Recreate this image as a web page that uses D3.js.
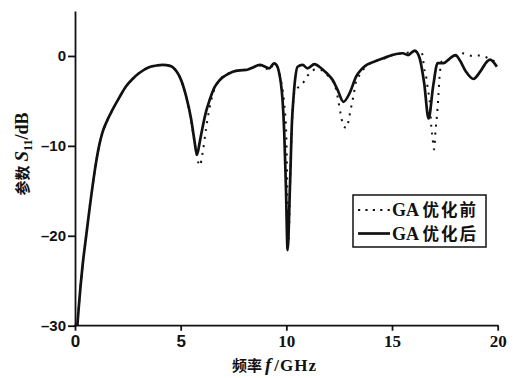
<!DOCTYPE html>
<html>
<head>
<meta charset="utf-8">
<script src="https://cdn.jsdelivr.net/npm/d3@7"></script>
<style>
  html, body { margin: 0; padding: 0; background: #fff; }
  svg { display: block; }
  .axis path, .axis line { stroke: #111; stroke-width: 1.8; }
  .axis text { fill: #111; font-weight: bold; }
  .sans { font-family: "Liberation Sans", Arial, sans-serif; }
  .serif { font-family: "Liberation Serif", "Times New Roman", serif; }
  .cjk { font-family: "Noto Sans CJK SC", sans-serif; }
</style>
</head>
<body>
<svg id="chart" width="516" height="378"></svg>
<script>
var X_TICKS = [0, 5, 10, 15, 20];
var Y_TICKS = [-30, -20, -10, 0];
var SERIES_LABELS = ['GA 优化前', 'GA 优化后'];

// GA 优化前 (dotted)
var beforeFreq = [0.11, 0.19, 0.35, 0.54, 0.8, 1.0, 1.14, 1.3, 1.5, 1.77, 2.1, 2.41, 2.75, 3.04, 3.5, 3.9, 4.15, 4.5, 4.8, 4.95, 5.1, 5.26, 5.5, 5.7, 5.9, 6.05, 6.2, 6.35, 6.5, 6.7, 6.9, 7.2, 7.5, 7.8, 8.1, 8.4, 8.74, 9.0, 9.19, 9.42, 9.6, 9.75, 9.9, 10.0, 10.1, 10.2, 10.3, 10.38, 10.5, 10.65, 10.85, 11.1, 11.4, 11.7, 12.0, 12.3, 12.43, 12.51, 12.59, 12.7, 12.86, 12.96, 13.04, 13.12, 13.2, 13.27, 13.5, 13.8, 14.2, 14.6, 15.2, 15.6, 16.07, 16.4, 16.55, 16.63, 16.7, 16.78, 16.86, 16.92, 16.99, 17.06, 17.12, 17.19, 17.25, 17.35, 17.7, 18.3, 18.8, 19.15, 19.6, 20.0];
var beforeDb = [-30, -27.6, -23.5, -19.8, -15, -11.8, -10, -8.5, -7.3, -6, -4.6, -3.4, -2.5, -1.9, -1.25, -1.05, -1.0, -1.1, -1.7, -2.3, -3.2, -4.5, -7.3, -10.2, -12.2, -10.6, -8.1, -6.0, -4.4, -3.2, -2.5, -2.0, -1.75, -1.6, -1.5, -1.3, -1.05, -1.3, -1.6, -0.9, -1.3, -2.8, -5.3, -9, -20.5, -12, -6.0, -4.1, -3.6, -3.4, -2.8, -1.9, -1.5, -1.6, -2.3, -3.3, -4.6, -5.7, -6.7, -7.8, -8.0, -7.0, -6.0, -5.1, -4.1, -3.1, -2.0, -1.1, -0.6, -0.3, 0.2, 0.3, 0.5, 0.4, -1.75, -2.5, -3.8, -4.9, -7.9, -9.2, -10.4, -8.2, -6.8, -4.6, -2.3, -0.6, -0.4, 0.3, 0.0, 0.05, -0.3, -0.8];

// GA 优化后 (solid)
var afterFreq = [0.11, 0.19, 0.35, 0.54, 0.8, 1.0, 1.14, 1.3, 1.5, 1.77, 2.1, 2.41, 2.75, 3.04, 3.5, 3.9, 4.15, 4.5, 4.8, 4.95, 5.1, 5.26, 5.5, 5.65, 5.77, 5.9, 6.04, 6.2, 6.37, 6.6, 6.84, 7.1, 7.47, 7.8, 8.1, 8.4, 8.74, 9.0, 9.19, 9.42, 9.58, 9.66, 9.74, 9.82, 9.9, 9.98, 10.06, 10.17, 10.27, 10.33, 10.42, 10.53, 10.77, 11.0, 11.33, 11.56, 11.9, 12.2, 12.43, 12.7, 13.0, 13.3, 13.55, 13.8, 14.2, 14.58, 15.2, 15.5, 15.76, 16.07, 16.3, 16.52, 16.73, 16.95, 17.16, 17.43, 17.74, 18.01, 18.2, 18.5, 18.85, 19.17, 19.49, 19.64, 19.96];
var afterDb = [-30, -27.6, -23.5, -19.8, -15, -11.8, -10, -8.5, -7.3, -6, -4.6, -3.4, -2.5, -1.9, -1.25, -1.05, -1.0, -1.1, -1.7, -2.3, -3.2, -4.5, -7.1, -9.4, -11.0, -9.6, -7.9, -6.2, -4.9, -3.5, -2.7, -2.2, -1.75, -1.6, -1.56, -1.3, -1.0, -1.2, -1.37, -0.82, -1.2, -1.9, -3.0, -4.9, -8.5, -14.6, -21.6, -14.6, -7.1, -4.9, -2.5, -1.2, -1.0, -1.37, -0.9, -1.2, -1.9, -2.7, -3.8, -5.1, -4.1, -2.3, -1.5, -1.0, -0.6, -0.26, 0.22, 0.3, 0.1, 0.6, -0.2, -3.0, -6.95, -3.3, -0.8, -0.8, -0.26, 0.1, -0.45, -1.75, -2.56, -1.75, -0.64, -0.4, -1.2];

var svg = d3.select('#chart');

var xScale = d3.scaleLinear().domain([0, 20]).range([75, 497.7]);
var yScale = d3.scaleLinear().domain([-30, 5]).range([325.7, 11]);

var line = d3.line()
  .curve(d3.curveMonotoneX)
  .x(d => xScale(d[0]))
  .y(d => yScale(d[1]));

var beforeData = d3.zip(beforeFreq, beforeDb);
var afterData = d3.zip(afterFreq, afterDb);

// axes
var xAxis = d3.axisBottom(xScale).tickValues(X_TICKS).tickSize(5).tickSizeOuter(0).tickPadding(4);
var yAxis = d3.axisLeft(yScale).tickValues(Y_TICKS).tickSize(7).tickSizeOuter(0).tickPadding(2);

var xAxisGroup = svg.append('g')
  .attr('class', 'axis axis-x')
  .attr('transform', 'translate(0, ' + yScale(-30) + ')')
  .call(xAxis);
xAxisGroup.select('.domain').attr('d', 'M' + (xScale(0) - 1) + ',0H' + (xScale(20) + 1));
xAxisGroup.selectAll('text')
  .attr('class', d => d >= 10 ? 'serif' : 'sans')
  .style('font-size', '17px');

var yAxisGroup = svg.append('g')
  .attr('class', 'axis axis-y')
  .attr('transform', 'translate(' + xScale(0) + ', 0)')
  .call(yAxis);
yAxisGroup.selectAll('text')
  .attr('class', 'sans')
  .style('font-size', '15px')
  .text(d => d < 0 ? '\u2013' + Math.abs(d) : d);

// curves
svg.append('path')
  .attr('d', line(beforeData))
  .attr('fill', 'none')
  .attr('stroke', '#111')
  .attr('stroke-width', 2)
  .attr('stroke-dasharray', '2,6');

svg.append('path')
  .attr('d', line(afterData))
  .attr('fill', 'none')
  .attr('stroke', '#111')
  .attr('stroke-width', 2.7)
  .attr('stroke-linejoin', 'round');

// axis titles
var xTitle = svg.append('text')
  .attr('x', 232)
  .attr('y', 371)
  .attr('fill', '#111')
  .style('font-weight', 'bold');
xTitle.append('tspan').attr('class', 'cjk').style('font-size', '15px').text('频率');
xTitle.append('tspan').attr('class', 'serif').attr('dx', 3).style('font-style', 'italic').style('font-size', '19px').text('f');
xTitle.append('tspan').attr('class', 'serif').attr('dx', 3).style('font-size', '17px').style('letter-spacing', '1px').text('/GHz');

var yTitle = svg.append('text')
  .attr('transform', 'translate(28, 154) rotate(-90)')
  .attr('text-anchor', 'middle')
  .attr('fill', '#111')
  .style('font-weight', 'bold');
yTitle.append('tspan').attr('class', 'cjk').style('font-size', '15px').text('参数');
yTitle.append('tspan').attr('class', 'serif').attr('dx', 4).style('font-style', 'italic').style('font-size', '19px').text('S');
yTitle.append('tspan').attr('class', 'serif').style('font-size', '12px').attr('dy', 4).text('11');
yTitle.append('tspan').attr('class', 'serif').style('font-size', '18px').attr('dy', -4).text('/dB');

// legend
var legend = svg.append('g').attr('class', 'legend');
legend.append('rect')
  .attr('x', 353).attr('y', 195)
  .attr('width', 133).attr('height', 52)
  .attr('fill', '#fff')
  .attr('stroke', '#111')
  .attr('stroke-width', 1.5);

var legendStyles = [
  {dash: '2.2,5.2', width: 2},
  {dash: null, width: 2.7}
];

SERIES_LABELS.forEach((label, i) => {
  var cy = 210 + i * 23.5;
  legend.append('line')
    .attr('x1', 358).attr('x2', 390)
    .attr('y1', cy).attr('y2', cy)
    .attr('stroke', '#111')
    .attr('stroke-width', legendStyles[i].width)
    .attr('stroke-dasharray', legendStyles[i].dash);
  var t = legend.append('text')
    .attr('x', 392)
    .attr('y', cy + 6)
    .attr('fill', '#111')
    .style('font-weight', 'bold');
  t.append('tspan').attr('class', 'serif').style('font-size', '18px').text(label.slice(0, 3));
  t.append('tspan').attr('class', 'cjk').style('font-size', '16.5px').style('letter-spacing', '2px').text(label.slice(3));
});
</script>
</body>
</html>
